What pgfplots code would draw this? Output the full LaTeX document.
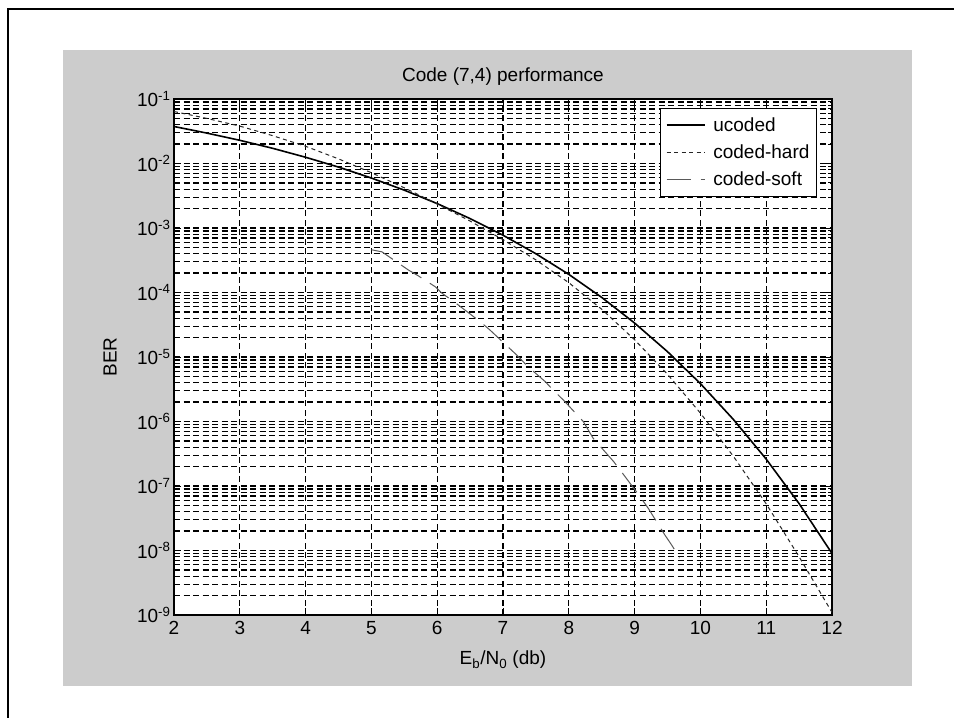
\documentclass[border=0pt]{standalone}
\usepackage{fontspec}
\setmainfont{Liberation Sans}
\usepackage{pgfplots}
\pgfplotsset{compat=1.18}
\definecolor{figgray}{RGB}{204,204,204}
\newcommand{\lbl}{\fontsize{19}{22}\selectfont}

\begin{document}
\begin{tikzpicture}[x=1pt,y=1pt]
% figure background and frame
\fill[figgray] (63,32) rectangle (912,668);
\draw[line width=2pt] (8.3,-5) -- (8.3,709) -- (960,709);
\begin{axis}[
  at={(174pt,103pt)}, anchor=south west,
  width=658pt, height=516pt, scale only axis,
  ymode=log,
  xmin=2, xmax=12, ymin=1e-9, ymax=1e-1,
  xtick={2,3,4,5,6,7,8,9,10,11,12},
  ytick={1e-9,1e-8,1e-7,1e-6,1e-5,1e-4,1e-3,1e-2,1e-1},
  yticklabels={10\textsuperscript{-9},10\textsuperscript{-8},10\textsuperscript{-7},10\textsuperscript{-6},10\textsuperscript{-5},10\textsuperscript{-4},10\textsuperscript{-3},10\textsuperscript{-2},10\textsuperscript{-1}},
  minor ytick={2e-9,3e-9,4e-9,5e-9,6e-9,7e-9,8e-9,9e-9,
               2e-8,3e-8,4e-8,5e-8,6e-8,7e-8,8e-8,9e-8,
               2e-7,3e-7,4e-7,5e-7,6e-7,7e-7,8e-7,9e-7,
               2e-6,3e-6,4e-6,5e-6,6e-6,7e-6,8e-6,9e-6,
               2e-5,3e-5,4e-5,5e-5,6e-5,7e-5,8e-5,9e-5,
               2e-4,3e-4,4e-4,5e-4,6e-4,7e-4,8e-4,9e-4,
               2e-3,3e-3,4e-3,5e-3,6e-3,7e-3,8e-3,9e-3,
               2e-2,3e-2,4e-2,5e-2,6e-2,7e-2,8e-2,9e-2},
  /pgf/number format/assume math mode=true,
  tick label style={font=\lbl, black},
  xticklabel style={yshift=-3pt},
  grid=both,
  major grid style={black, line width=1.2pt, dash pattern=on 6pt off 3.5pt},
  minor grid style={black, line width=1.2pt, dash pattern=on 6pt off 3.5pt},
  tick align=inside,
  major tick length=7pt, minor tick length=4pt,
  every tick/.style={black, line width=1pt},
  axis line style={black, line width=1.6pt},
  axis background/.style={fill=white},
  title={Code (7,4) performance},
  title style={font=\lbl, at={(axis description cs:0.5,1)}, anchor=base, yshift=12pt},
  xlabel={E\textsubscript{b}/N\textsubscript{0} (db)},
  xlabel style={font=\lbl, at={(axis description cs:0.5,-0.087)}, anchor=center},
  ylabel={BER},
  ylabel style={font=\lbl, at={(axis description cs:-0.0973,0.5)}, anchor=center},
  legend style={font=\lbl, at={(axis description cs:1,1)}, anchor=north east,
    xshift=-15pt, yshift=-9pt, draw=black, line width=1.1pt, fill=white,
    row sep=8pt, inner xsep=5pt, inner ysep=7pt},
  legend cell align=left,
  legend image code/.code={\draw[#1] (0pt,0pt) -- (38pt,0pt); \path (44pt,0pt);},
]
\addplot[black, line width=1.6pt] coordinates {
(2,0.0375)(2.5,0.0296)(3,0.0229)(3.5,0.0172)(4,0.0125)(4.5,0.00880)
(5,0.00595)(5.5,0.00386)(6,0.00239)(6.5,0.00140)(7,7.73e-4)(7.5,3.99e-4)
(8,1.91e-4)(8.5,8.4e-5)(9,3.36e-5)(9.5,1.21e-5)(10,3.87e-6)(10.5,1.08e-6)
(11,2.61e-7)(11.5,5.33e-8)(12,9.0e-9)};
\addlegendentry{ucoded}
\addplot[black!85, line width=1pt, dash pattern=on 4pt off 3.5pt] coordinates {
(2,0.064)(2.5,0.050)(3,0.038)(3.5,0.027)(4,0.0185)(4.5,0.0118)
(5,0.0072)(5.5,0.0042)(6,0.00236)(6.5,0.00128)(7,6.6e-4)(7.5,3.2e-4)
(8,1.42e-4)(8.5,5.5e-5)(9,1.85e-5)(9.5,5.4e-6)(10,1.35e-6)(10.5,2.9e-7)
(11,5.3e-8)(11.5,8.0e-9)(12,1.1e-9)};
\addlegendentry{coded-hard}
\addplot[black!65, line width=1pt, dash pattern=on 24pt off 10pt] coordinates {
(5.0,4.6e-4)(5.16,4.27e-4)(5.56,2.24e-4)(5.71,1.82e-4)(5.97,1.23e-4)
(6.07,9.8e-5)(6.29,6.76e-5)(6.65,3.55e-5)(6.80,2.63e-5)(7.21,1.07e-5)
(7.38,7.08e-6)(7.64,4.17e-6)(7.76,3.09e-6)(7.92,2.14e-6)(8.22,1.0e-6)
(8.37,5.5e-7)(8.68,2.4e-7)(8.80,1.66e-7)(9.08,6.9e-8)(9.21,4.47e-8)
(9.46,1.74e-8)(9.56,1.23e-8)(9.64,9.1e-9)(9.68,7.6e-9)};
\addlegendentry{coded-soft}
\end{axis}
\pgfresetboundingbox
\useasboundingbox (0,0) rectangle (954,718);
\end{tikzpicture}
\end{document}
